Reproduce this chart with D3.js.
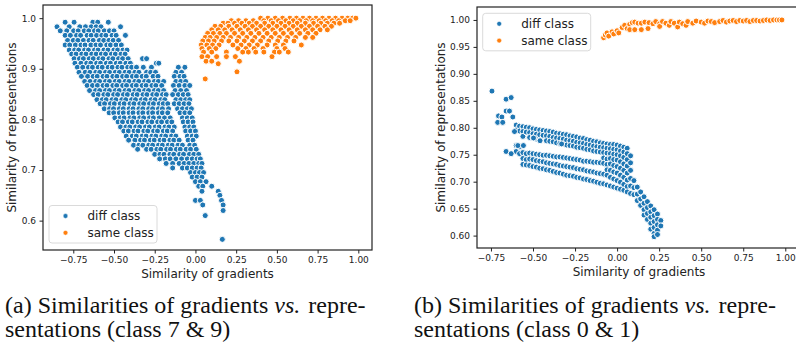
<!DOCTYPE html>
<html>
<head>
<meta charset="utf-8">
<script src="https://cdn.jsdelivr.net/npm/d3@7"></script>
<style>
  body { margin: 0; background: #fff; }
  svg { display: block; }
</style>
</head>
<body>
<div id="chart"></div>
<script>
// ---- data ----
// panel (a): rows as [y, x1, x2, ...]
var diffA = [
  [0.992, -0.80, -0.745, -0.63, -0.60, -0.535],
  [0.983, -0.85, -0.775, -0.71, -0.675, -0.64, -0.61, -0.58, -0.46],
  [0.975, -0.83, -0.79, -0.748, -0.72, -0.683, -0.655, -0.62, -0.597, -0.56, -0.528, -0.50],
  [0.966, -0.80, -0.768, -0.73, -0.705, -0.665, -0.64, -0.607, -0.575, -0.55, -0.512, -0.487, -0.43],
  [0.956, -0.785, -0.75, -0.722, -0.688, -0.653, -0.628, -0.59, -0.563, -0.531, -0.505, -0.472],
  [0.947, -0.80, -0.772, -0.737, -0.703, -0.678, -0.642, -0.611, -0.583, -0.545, -0.522, -0.488, -0.455],
  [0.937, -0.775, -0.742, -0.717, -0.681, -0.657, -0.62, -0.598, -0.562, -0.537, -0.501, -0.478, -0.445, -0.42],
  [0.929, -0.76, -0.733, -0.698, -0.672, -0.637, -0.61, -0.578, -0.552, -0.516, -0.492, -0.457, -0.432],
  [0.920, -0.745, -0.712, -0.688, -0.652, -0.627, -0.592, -0.568, -0.531, -0.507, -0.472, -0.447, -0.413, -0.325, -0.30],
  [0.911, -0.74, -0.703, -0.668, -0.643, -0.607, -0.583, -0.547, -0.522, -0.486, -0.462, -0.427, -0.40, -0.24, -0.225],
  [0.903, -0.725, -0.692, -0.657, -0.632, -0.597, -0.572, -0.536, -0.511, -0.476, -0.451, -0.416, -0.392, -0.362, -0.32, -0.27, -0.105, -0.065],
  [0.893, -0.715, -0.677, -0.648, -0.612, -0.588, -0.552, -0.527, -0.492, -0.467, -0.432, -0.407, -0.372, -0.347, -0.30, -0.275, -0.245, -0.12, -0.085],
  [0.885, -0.70, -0.662, -0.628, -0.603, -0.567, -0.543, -0.507, -0.482, -0.447, -0.422, -0.387, -0.362, -0.327, -0.302, -0.26, -0.23, -0.13, -0.095, -0.07],
  [0.875, -0.68, -0.647, -0.612, -0.588, -0.552, -0.528, -0.492, -0.468, -0.432, -0.408, -0.372, -0.348, -0.312, -0.288, -0.252, -0.228, -0.195, -0.12, -0.09, -0.06],
  [0.867, -0.665, -0.632, -0.602, -0.567, -0.543, -0.507, -0.483, -0.447, -0.423, -0.387, -0.363, -0.327, -0.303, -0.267, -0.243, -0.207, -0.135, -0.10, -0.065, -0.035],
  [0.857, -0.65, -0.613, -0.588, -0.552, -0.528, -0.492, -0.468, -0.432, -0.408, -0.372, -0.348, -0.312, -0.288, -0.252, -0.228, -0.195, -0.125, -0.09, -0.055],
  [0.849, -0.625, -0.597, -0.562, -0.538, -0.502, -0.478, -0.442, -0.418, -0.382, -0.358, -0.322, -0.298, -0.262, -0.238, -0.202, -0.18, -0.14, -0.105, -0.075, -0.045],
  [0.839, -0.605, -0.572, -0.548, -0.512, -0.488, -0.452, -0.428, -0.392, -0.368, -0.332, -0.308, -0.272, -0.248, -0.212, -0.188, -0.12, -0.09, -0.06, -0.035],
  [0.831, -0.585, -0.558, -0.522, -0.498, -0.462, -0.438, -0.402, -0.378, -0.342, -0.318, -0.282, -0.258, -0.222, -0.198, -0.17, -0.13, -0.10, -0.07, -0.04],
  [0.821, -0.56, -0.527, -0.503, -0.467, -0.443, -0.407, -0.383, -0.347, -0.323, -0.287, -0.263, -0.227, -0.203, -0.165, -0.11, -0.08, -0.05, -0.025],
  [0.813, -0.53, -0.502, -0.467, -0.443, -0.407, -0.383, -0.347, -0.323, -0.287, -0.263, -0.227, -0.203, -0.17, -0.095, -0.065, -0.035],
  [0.803, -0.495, -0.462, -0.438, -0.402, -0.378, -0.342, -0.318, -0.282, -0.258, -0.222, -0.19, -0.155, -0.08, -0.05, -0.02],
  [0.795, -0.475, -0.448, -0.412, -0.388, -0.352, -0.328, -0.292, -0.268, -0.232, -0.208, -0.172, -0.145, -0.075, -0.045, -0.015],
  [0.785, -0.46, -0.427, -0.403, -0.367, -0.343, -0.307, -0.283, -0.247, -0.223, -0.187, -0.163, -0.13, -0.065, -0.035, -0.01],
  [0.777, -0.44, -0.412, -0.377, -0.353, -0.317, -0.293, -0.257, -0.233, -0.197, -0.173, -0.14, -0.06, -0.03, 0.0],
  [0.767, -0.425, -0.388, -0.363, -0.327, -0.303, -0.267, -0.243, -0.207, -0.183, -0.147, -0.12, -0.05, -0.02, 0.005],
  [0.759, -0.41, -0.372, -0.337, -0.313, -0.277, -0.253, -0.217, -0.193, -0.157, -0.133, -0.10, -0.045, -0.015],
  [0.749, -0.38, -0.347, -0.323, -0.287, -0.263, -0.227, -0.203, -0.167, -0.143, -0.107, -0.08, -0.035, -0.005],
  [0.741, -0.355, -0.30, -0.272, -0.237, -0.213, -0.177, -0.153, -0.117, -0.093, -0.057, -0.03, 0.005],
  [0.731, -0.25, -0.218, -0.193, -0.157, -0.133, -0.097, -0.073, -0.037, -0.01, 0.02],
  [0.722, -0.22, -0.185, -0.155, -0.12, -0.085, -0.05, -0.02, 0.01, 0.03],
  [0.713, -0.18, -0.14, -0.10, -0.07, -0.04, -0.01, 0.02, 0.04],
  [0.704, -0.14, -0.08, -0.05, -0.02, 0.01, 0.035],
  [0.695, -0.03, 0.0, 0.025, 0.05],
  [0.686, -0.02, 0.01, 0.04],
  [0.677, 0.0, 0.03, 0.065],
  [0.668, 0.02, 0.045, 0.10],
  [0.658, 0.04, 0.14],
  [0.650, 0.15],
  [0.640, 0.0, 0.03, 0.16],
  [0.631, 0.045, 0.17],
  [0.620, 0.17],
  [0.610, 0.06],
  [0.563, 0.165]
];
var sameA = [
  [1.000, 0.40, 0.445, 0.49, 0.535, 0.58, 0.62, 0.66, 0.70, 0.74, 0.78, 0.82, 0.86, 0.90, 0.935, 0.965, 0.985],
  [0.995, 0.22, 0.265, 0.31, 0.355, 0.42, 0.465, 0.51, 0.555, 0.60, 0.64, 0.68, 0.72, 0.76, 0.80, 0.84, 0.88, 0.92, 0.95],
  [0.990, 0.17, 0.20, 0.24, 0.285, 0.33, 0.375, 0.425, 0.475, 0.525, 0.575, 0.625, 0.675, 0.725, 0.77, 0.81, 0.85, 0.885],
  [0.984, 0.12, 0.155, 0.205, 0.255, 0.305, 0.35, 0.40, 0.45, 0.50, 0.55, 0.60, 0.65, 0.70, 0.75, 0.795, 0.835],
  [0.977, 0.10, 0.14, 0.18, 0.225, 0.275, 0.325, 0.375, 0.425, 0.475, 0.525, 0.575, 0.625, 0.675, 0.72, 0.765, 0.81],
  [0.970, 0.075, 0.11, 0.15, 0.19, 0.24, 0.29, 0.34, 0.39, 0.44, 0.49, 0.54, 0.59, 0.64, 0.69, 0.74],
  [0.962, 0.06, 0.09, 0.13, 0.17, 0.215, 0.265, 0.315, 0.365, 0.415, 0.465, 0.515, 0.565, 0.615, 0.675, 0.72],
  [0.955, 0.045, 0.08, 0.115, 0.16, 0.205, 0.255, 0.30, 0.35, 0.40, 0.45, 0.505, 0.555, 0.605],
  [0.947, 0.035, 0.07, 0.105, 0.145, 0.23, 0.28, 0.33, 0.38, 0.44, 0.49, 0.54, 0.65],
  [0.940, 0.04, 0.085, 0.125, 0.26, 0.31, 0.36, 0.415, 0.50, 0.55],
  [0.933, 0.05, 0.10, 0.19, 0.29, 0.325, 0.37, 0.42, 0.485, 0.515, 0.57],
  [0.924, 0.04, 0.075, 0.13, 0.19, 0.245, 0.47],
  [0.915, 0.065, 0.10, 0.27],
  [0.910, 0.14],
  [0.894, 0.255],
  [0.880, 0.06]
];

// panel (b): columns as [x, y1, y2, ...] plus a few loose points
var diffB = [
  [-0.60, 0.805, 0.796, 0.767, 0.756],
  [-0.58, 0.803, 0.794, 0.765, 0.752],
  [-0.56, 0.802, 0.793, 0.784, 0.754, 0.743, 0.732],
  [-0.54, 0.801, 0.792, 0.752, 0.741, 0.731],
  [-0.52, 0.800, 0.791, 0.782, 0.753, 0.742, 0.730],
  [-0.50, 0.798, 0.789, 0.781, 0.752, 0.741, 0.728],
  [-0.48, 0.797, 0.788, 0.779, 0.751, 0.739, 0.727],
  [-0.46, 0.796, 0.787, 0.777, 0.750, 0.738, 0.725],
  [-0.44, 0.795, 0.786, 0.749, 0.737, 0.724],
  [-0.42, 0.794, 0.785, 0.776, 0.749, 0.735, 0.722],
  [-0.40, 0.793, 0.784, 0.775, 0.748, 0.734, 0.721],
  [-0.38, 0.792, 0.782, 0.774, 0.747, 0.733, 0.719],
  [-0.36, 0.790, 0.781, 0.772, 0.746, 0.732, 0.717],
  [-0.34, 0.789, 0.780, 0.771, 0.746, 0.730, 0.716],
  [-0.32, 0.788, 0.779, 0.770, 0.745, 0.729, 0.714],
  [-0.30, 0.787, 0.777, 0.768, 0.744, 0.728, 0.712],
  [-0.28, 0.785, 0.776, 0.767, 0.743, 0.727, 0.711],
  [-0.26, 0.784, 0.775, 0.766, 0.742, 0.726, 0.710],
  [-0.24, 0.783, 0.773, 0.764, 0.741, 0.724, 0.708],
  [-0.22, 0.781, 0.772, 0.763, 0.740, 0.723, 0.707],
  [-0.20, 0.780, 0.771, 0.762, 0.738, 0.722, 0.705],
  [-0.18, 0.778, 0.769, 0.760, 0.738, 0.720, 0.704],
  [-0.16, 0.777, 0.768, 0.759, 0.737, 0.719, 0.702],
  [-0.14, 0.775, 0.766, 0.757, 0.736, 0.718, 0.701],
  [-0.12, 0.774, 0.765, 0.756, 0.736, 0.716, 0.699],
  [-0.10, 0.772, 0.764, 0.755, 0.735, 0.715, 0.697],
  [-0.08, 0.771, 0.763, 0.754, 0.744, 0.734, 0.714, 0.696],
  [-0.06, 0.770, 0.762, 0.753, 0.742, 0.732, 0.722, 0.712, 0.694],
  [-0.04, 0.769, 0.761, 0.752, 0.743, 0.733, 0.721, 0.708, 0.692],
  [-0.02, 0.769, 0.760, 0.751, 0.741, 0.730, 0.718, 0.705, 0.690],
  [0.00, 0.768, 0.759, 0.750, 0.740, 0.728, 0.716, 0.702, 0.688],
  [0.02, 0.766, 0.757, 0.748, 0.737, 0.725, 0.712, 0.699, 0.686],
  [0.04, 0.764, 0.755, 0.745, 0.733, 0.721, 0.708, 0.695, 0.684],
  [0.06, 0.762, 0.752, 0.741, 0.729, 0.716, 0.703, 0.691, 0.681],
  [0.08, 0.748, 0.735, 0.721, 0.706, 0.692, 0.678],
  [0.10, 0.702, 0.689, 0.676],
  [0.12, 0.690, 0.677, 0.665],
  [0.14, 0.681, 0.668, 0.656],
  [0.16, 0.672, 0.660, 0.648, 0.638],
  [0.18, 0.663, 0.652, 0.641, 0.630],
  [0.20, 0.655, 0.644, 0.634, 0.623, 0.612],
  [0.22, 0.648, 0.637, 0.626, 0.615, 0.604, 0.598],
  [0.24, 0.640, 0.630, 0.620, 0.610, 0.602],
  [0.26, 0.628, 0.618]
];
var diffBLoose = [
  [-0.744, 0.868], [-0.66, 0.853], [-0.63, 0.856], [-0.66, 0.831], [-0.64, 0.831],
  [-0.705, 0.822], [-0.685, 0.820], [-0.71, 0.810], [-0.68, 0.810], [-0.62, 0.820],
  [-0.66, 0.756], [-0.63, 0.752], [-0.61, 0.793], [-0.59, 0.767], [-0.557, 0.767],
  [-0.497, 0.781], [-0.458, 0.776], [-0.33, 0.770]
];
var sameB = [
  [-0.08, 0.967], [-0.07, 0.972], [-0.06, 0.976], [-0.05, 0.970], [-0.03, 0.978], [-0.02, 0.974],
  [0.00, 0.980], [0.01, 0.976], [0.03, 0.986], [0.045, 0.990], [0.06, 0.984], [0.075, 0.992],
  [0.075, 0.982], [0.09, 0.995], [0.105, 0.996], [0.105, 0.982], [0.125, 0.994], [0.144, 0.994],
  [0.144, 0.982], [0.165, 0.996], [0.184, 0.984], [0.19, 0.995], [0.213, 0.993], [0.23, 0.997],
  [0.253, 0.993], [0.253, 0.988], [0.27, 0.997], [0.29, 0.994], [0.31, 0.990], [0.32, 0.997],
  [0.34, 0.994], [0.36, 0.987], [0.37, 0.996], [0.39, 0.993], [0.41, 0.990], [0.42, 0.997],
  [0.45, 0.994], [0.47, 0.998], [0.50, 0.996], [0.52, 0.994], [0.54, 0.998], [0.56, 0.997],
  [0.58, 0.995], [0.61, 0.997], [0.63, 0.999], [0.65, 0.996], [0.67, 0.998], [0.69, 0.999],
  [0.71, 0.997], [0.73, 0.999], [0.75, 0.998], [0.77, 0.999], [0.79, 0.997], [0.81, 0.999],
  [0.83, 0.999], [0.85, 0.998], [0.87, 0.999], [0.89, 1.000], [0.91, 0.999], [0.93, 1.000],
  [0.95, 1.000], [0.965, 1.000], [0.98, 1.000]
];

var xTicks = [-0.75, -0.5, -0.25, 0, 0.25, 0.5, 0.75, 1.0];
var yTicksA = [0.6, 0.7, 0.8, 0.9, 1.0];
var yTicksB = [0.60, 0.65, 0.70, 0.75, 0.80, 0.85, 0.90, 0.95, 1.00];
var legendLabels = ["diff class", "same class"];
var colors = ["#1f77b4", "#ff7f0e"];

// rows [y, xs...] -> points ; cols [x, ys...] -> points
function fromRows(rows) {
  return rows.flatMap(function(r) { return r.slice(1).map(function(x) { return [x, r[0]]; }); });
}
function fromCols(cols) {
  return cols.flatMap(function(c) { return c.slice(1).map(function(y) { return [c[0], y]; }); });
}

var W = 796, H = 345;
var svg = d3.select("#chart").append("svg").attr("width", W).attr("height", H);
var sans = "'DejaVu Sans', sans-serif";

function drawPanel(p) {
  var g = svg.append("g").attr("transform", "translate(" + p.left + "," + p.top + ")");
  var x = d3.scaleLinear().domain(p.xDomain).range([0, p.w]);
  var y = d3.scaleLinear().domain(p.yDomain).range([p.h, 0]);

  // points, diff class first then same class (like the hue order)
  p.series.forEach(function(pts, i) {
    g.append("g").selectAll("circle")
      .data(pts)
      .enter().append("circle")
      .attr("cx", function(d) { return x(d[0]); })
      .attr("cy", function(d) { return y(d[1]); })
      .attr("r", 3.0)
      .attr("fill", colors[i])
      .attr("stroke", "#fff")
      .attr("stroke-width", 1.0);
  });

  var xa = g.append("g").attr("transform", "translate(0," + p.h + ")")
    .call(d3.axisBottom(x).tickValues(xTicks).tickFormat(d3.format(".2f")).tickSize(3.5).tickPadding(3.5));
  var ya = g.append("g")
    .call(d3.axisLeft(y).tickValues(p.yTicks).tickFormat(d3.format(p.yFmt)).tickSize(3.5).tickPadding(3.5));
  [xa, ya].forEach(function(a) {
    a.select(".domain").remove();
    a.selectAll("line").attr("stroke", "#222").attr("stroke-width", 1);
    a.selectAll("text").attr("fill", "#222").style("font-family", sans).style("font-size", "9px");
  });

  // frame
  g.append("rect").attr("width", p.w).attr("height", p.h)
    .attr("fill", "none").attr("stroke", "#222").attr("stroke-width", 1.2);

  // axis titles
  svg.append("text").attr("x", p.xlab[0]).attr("y", p.xlab[1])
    .attr("text-anchor", "middle").attr("fill", "#222")
    .style("font-family", sans).style("font-size", "12px")
    .text("Similarity of gradients");
  svg.append("text").attr("transform", "translate(" + p.ylab[0] + "," + p.ylab[1] + ") rotate(-90)")
    .attr("text-anchor", "middle").attr("fill", "#222")
    .style("font-family", sans).style("font-size", "12px")
    .text("Similarity of representations");

  // legend
  var lg = svg.append("g").attr("transform", "translate(" + p.legend[0] + "," + p.legend[1] + ")");
  lg.append("rect").attr("width", 108).attr("height", 37.5).attr("rx", 3)
    .attr("fill", "#fff").attr("fill-opacity", 0.8).attr("stroke", "#d0d0d0").attr("stroke-width", 0.8);
  legendLabels.forEach(function(lab, i) {
    var cy = 10.5 + i * 16.8;
    lg.append("circle").attr("cx", 16.5).attr("cy", cy).attr("r", 2.4)
      .attr("fill", colors[i]).attr("stroke", "#fff").attr("stroke-width", 0.5);
    lg.append("text").attr("x", 38.5).attr("y", cy + 4.3).attr("fill", "#222")
      .style("font-family", sans).style("font-size", "12px").text(lab);
  });
}

drawPanel({
  left: 43, top: 5, w: 329, h: 245,
  xDomain: [-0.936, 1.084], yDomain: [0.542, 1.026],
  yTicks: yTicksA, yFmt: ".1f",
  series: [fromRows(diffA), fromRows(sameA)],
  xlab: [207.5, 278], ylab: [16, 127.5], legend: [49, 205.5]
});
drawPanel({
  left: 477, top: 7, w: 323, h: 241,
  xDomain: [-0.833, 1.0875], yDomain: [0.577, 1.024],
  yTicks: yTicksB, yFmt: ".2f",
  series: [fromCols(diffB).concat(diffBLoose), sameB],
  xlab: [639, 276], ylab: [445, 127.5], legend: [482.7, 13.3]
});

// captions under the panels
var serif = "'Liberation Serif', 'Times New Roman', serif";
var captions = [
  { x: 5, tag: "(a)", cls: "7 & 9" },
  { x: 414, tag: "(b)", cls: "0 & 1" }
];
captions.forEach(function(c) {
  var t1 = svg.append("text").attr("x", c.x).attr("y", 313)
    .style("font-family", serif).style("font-size", "24px").attr("fill", "#111");
  t1.append("tspan").text(c.tag + " Similarities of gradients ");
  t1.append("tspan").style("font-style", "italic").text("vs.");
  t1.append("tspan").attr("dx", 8).text("repre-");
  svg.append("text").attr("x", c.x).attr("y", 337)
    .style("font-family", serif).style("font-size", "24px").attr("fill", "#111")
    .text("sentations (class " + c.cls + ")");
});
</script>
</body>
</html>
